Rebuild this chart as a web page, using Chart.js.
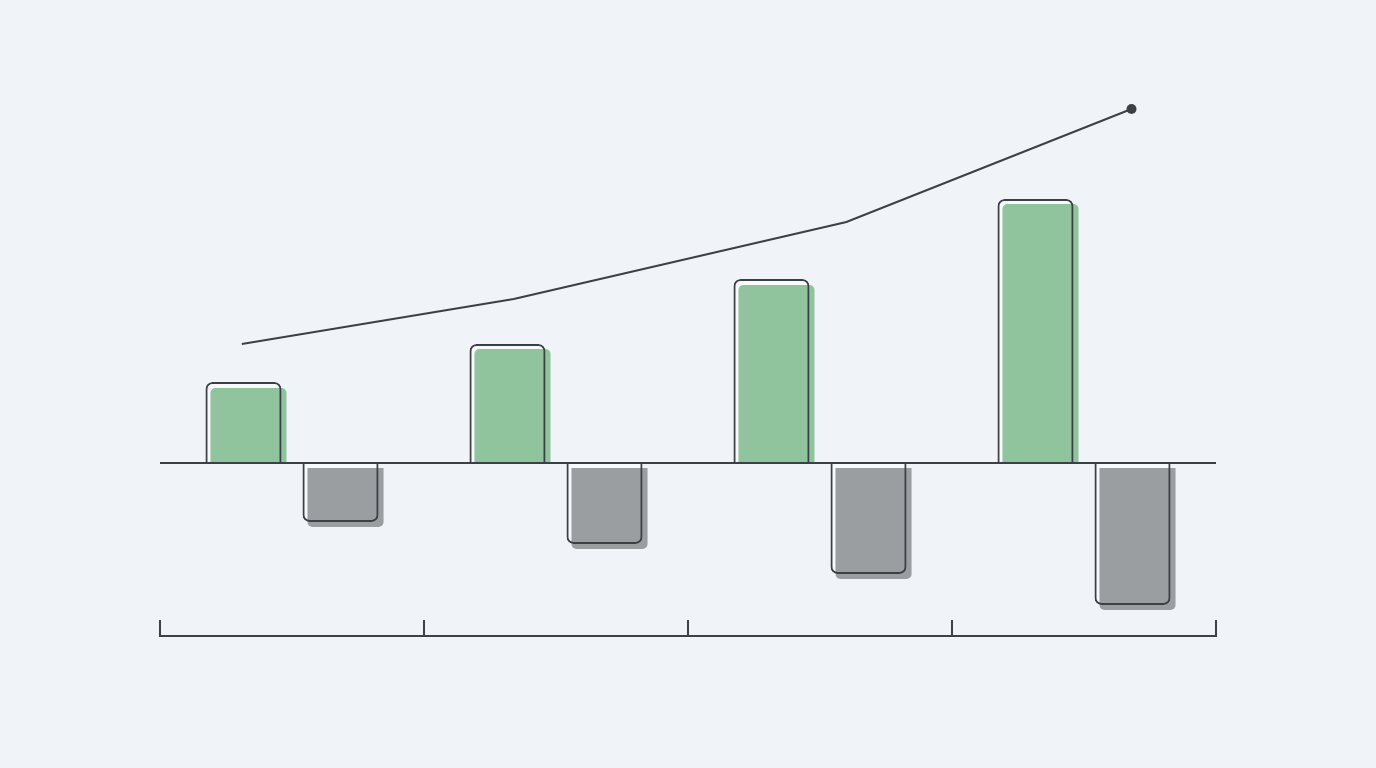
<!DOCTYPE html>
<html>
<head>
<meta charset="utf-8">
<title>Gains vs losses</title>
<script src="https://cdn.jsdelivr.net/npm/chart.js@4.4.1/dist/chart.umd.min.js"></script>
<style>
  html, body { margin: 0; padding: 0; background: #f0f4f8; }
  .layer { position: absolute; left: 0; top: 0; width: 1376px; height: 768px; }
</style>
</head>
<body>
<div class="layer"><canvas id="bars"></canvas></div>
<div class="layer"><canvas id="trend"></canvas></div>
<script>
// Categories (no labels are shown on the picture)
const categories = ['P1', 'P2', 'P3', 'P4'];

// Positive bars: outline box and the filled block inside it
const gainOutline = [20.25, 29.75, 46, 66];
const gainFill = [18.75, 28.5, 44.5, 64.75];

// Negative bars: outline box and the filled block (starts just under zero)
const lossOutline = [-14.75, -20.25, -27.75, -35.5];
const lossFillStart = -1.25;
const lossFill = [-16, -21.5, -29, -36.75];

// Trend line (x on a 0..4 linear scale across the categories)
const trendX = [0.31, 1.34, 2.6, 3.68];
const trendY = [29.75, 41, 60.25, 88.5];

// shared value range
const yMin = -43.25;
const yMax = 100;

const ink = '#3b4045';
const green = '#8fc49c';
const grey = '#9a9ea1';
const inner = '#f7f9fb';
const pad = { left: 160, right: 160, top: 63, bottom: 132 };

// shift the filled blocks a little to the right of their outlines
const shiftPlugin = {
  id: 'shiftFill',
  beforeDatasetDraw(chart, args) {
    const ds = chart.data.datasets[args.index];
    if (ds.shiftX) {
      chart.ctx.save();
      chart.ctx.translate(ds.shiftX, 0);
    }
  },
  afterDatasetDraw(chart, args) {
    const ds = chart.data.datasets[args.index];
    if (ds.shiftX) chart.ctx.restore();
  }
};

const barBase = {
  categoryPercentage: 0.735,
  barPercentage: 0.784
};

new Chart(document.getElementById('bars'), {
  type: 'bar',
  data: {
    labels: categories,
    datasets: [
      // outlines on top of the fills
      {
        ...barBase, stack: 'gain', data: gainOutline,
        backgroundColor: 'rgba(0,0,0,0)', borderColor: ink, borderWidth: 2,
        borderRadius: 7, order: 1
      },
      {
        ...barBase, stack: 'loss', data: lossOutline,
        backgroundColor: 'rgba(0,0,0,0)', borderColor: ink, borderWidth: 2,
        borderRadius: 7, order: 1
      },
      // filled blocks
      {
        ...barBase, stack: 'gain', data: gainFill,
        backgroundColor: green, borderWidth: 0, borderRadius: 5,
        shiftX: 5, order: 2
      },
      {
        ...barBase, stack: 'loss', data: lossFill.map(v => [lossFillStart, v]),
        backgroundColor: grey, borderWidth: 0, borderRadius: 5,
        shiftX: 5, order: 2
      },
      // light inside of the outline boxes
      {
        ...barBase, stack: 'gain', data: gainOutline,
        backgroundColor: inner, borderWidth: 0, borderRadius: 7, order: 3
      },
      {
        ...barBase, stack: 'loss', data: lossOutline,
        backgroundColor: inner, borderWidth: 0, borderRadius: 7, order: 3
      }
    ]
  },
  options: {
    responsive: true,
    maintainAspectRatio: false,
    animation: false,
    layout: { padding: pad },
    plugins: { legend: { display: false }, tooltip: { enabled: false } },
    scales: {
      x: {
        ticks: { display: false },
        grid: { drawOnChartArea: false, tickLength: -16, color: ink, lineWidth: 2 },
        border: { display: true, color: ink, width: 2 },
        afterFit: s => { s.height = 0; }
      },
      y: {
        stacked: false,
        min: yMin,
        max: yMax,
        ticks: { display: false },
        border: { display: false },
        grid: { drawTicks: false, color: ink, lineWidth: 2 },
        afterBuildTicks: s => { s.ticks = [{ value: 0 }]; },
        afterFit: s => { s.width = 0; }
      }
    }
  },
  plugins: [shiftPlugin]
});

// trend line drawn on a transparent chart laid over the bars
new Chart(document.getElementById('trend'), {
  type: 'line',
  data: {
    datasets: [{
      data: trendX.map((x, i) => ({ x: x, y: trendY[i] })),
      borderColor: ink,
      borderWidth: 2,
      pointRadius: [0, 0, 0, 5],
      pointBackgroundColor: ink,
      pointBorderWidth: 0,
      tension: 0
    }]
  },
  options: {
    responsive: true,
    maintainAspectRatio: false,
    animation: false,
    layout: { padding: pad },
    plugins: { legend: { display: false }, tooltip: { enabled: false } },
    scales: {
      x: { type: 'linear', display: false, min: 0, max: 4 },
      y: { display: false, min: yMin, max: yMax }
    }
  }
});
</script>
</body>
</html>
